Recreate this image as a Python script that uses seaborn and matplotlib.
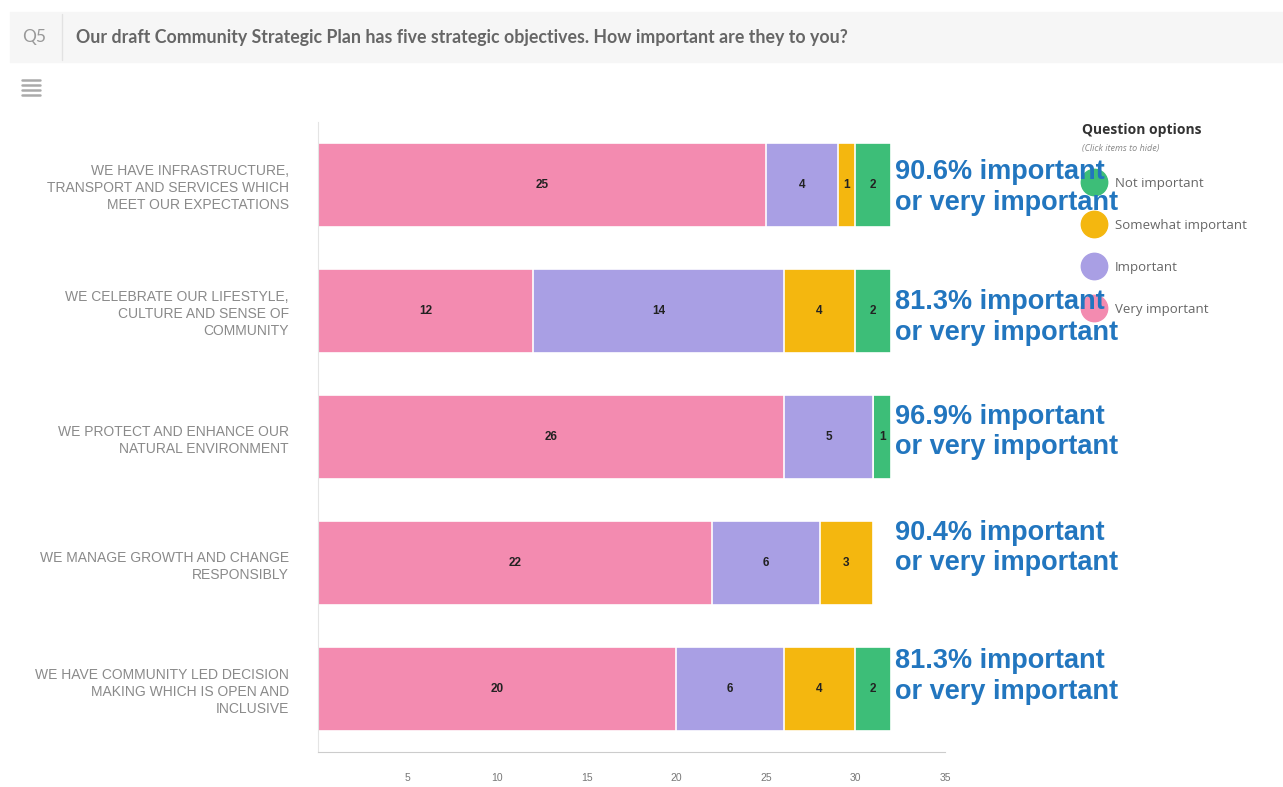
import numpy as np
import pandas as pd
import seaborn as sns
import matplotlib.pyplot as plt
from matplotlib.lines import Line2D
from matplotlib.patches import Rectangle

# survey counts per objective
objectives = [
    "WE HAVE INFRASTRUCTURE,\nTRANSPORT AND SERVICES WHICH\nMEET OUR EXPECTATIONS",
    "WE CELEBRATE OUR LIFESTYLE,\nCULTURE AND SENSE OF\nCOMMUNITY",
    "WE PROTECT AND ENHANCE OUR\nNATURAL ENVIRONMENT",
    "WE MANAGE GROWTH AND CHANGE\nRESPONSIBLY",
    "WE HAVE COMMUNITY LED DECISION\nMAKING WHICH IS OPEN AND\nINCLUSIVE",
]
very_important = [25, 12, 26, 22, 20]
important = [4, 14, 5, 6, 6]
somewhat_important = [1, 4, 0, 3, 4]
not_important = [2, 2, 1, 0, 2]
pct_important = ["90.6", "81.3", "96.9", "90.4", "81.3"]
x_ticks = [5, 10, 15, 20, 25, 30, 35]

levels = ["Very important", "Important", "Somewhat important", "Not important"]
colors = {"Very important": "#F38BB0", "Important": "#A99FE4",
          "Somewhat important": "#F4B70F", "Not important": "#3DBE78"}

df = pd.DataFrame({"objective": objectives,
                   "Very important": very_important,
                   "Important": important,
                   "Somewhat important": somewhat_important,
                   "Not important": not_important})
cum = df[levels].cumsum(axis=1)
cum["objective"] = df["objective"]

sns.set_style("white")
plt.rcParams["font.family"] = ["Liberation Sans", "DejaVu Sans"]

W, H = 1283, 787
fig = plt.figure(figsize=(W / 100, H / 100), dpi=100)
fx = lambda x: x / W
fy = lambda y: 1 - y / H

ax = fig.add_axes([fx(318), fy(752), fx(945) - fx(318), fy(122) - fy(752)])

# stacked bars: draw longest cumulative first
for lev in reversed(levels):
    sns.barplot(data=cum, y="objective", x=lev, color=colors[lev], orient="h",
                width=0.66, saturation=1, edgecolor="white", linewidth=1.2, ax=ax)

for i in range(len(df)):
    start = 0
    for lev in levels:
        v = df.loc[i, lev]
        if v > 0:
            ax.text(start + v / 2, i, str(v), ha="center", va="center",
                    fontsize=8.5, fontweight="bold", color="#222222")
        start += v

# percentage call-outs
offsets = [0.02, 0.05, -0.04, -0.12, -0.1]
for i, p in enumerate(pct_important):
    ax.text(0.92, i + offsets[i], f"{p}% important\nor very important",
            transform=ax.get_yaxis_transform(), ha="left", va="center",
            fontsize=19.5, color="#2276BF", linespacing=1.22,
            fontweight="bold", clip_on=False, zorder=10)

ax.set_xlim(0, 35)
ax.set_ylim(4.5, -0.5)
ax.set_xlabel("")
ax.set_ylabel("")
ax.set_xticks(x_ticks)
ax.set_xticklabels([str(t) for t in x_ticks])
ax.tick_params(axis="x", length=0, pad=15, labelsize=7.5, labelcolor="#777777")
ax.tick_params(axis="y", which="major", length=0, pad=21, labelsize=10,
               labelcolor="#8a8a8a")
ax.set_yticks(np.arange(-0.5, 5), minor=True)
ax.tick_params(axis="y", which="minor", length=13, color="#dddddd", width=1)
for t in ax.get_yticklabels():
    t.set_linespacing(1.3)
for s in ["top", "right"]:
    ax.spines[s].set_visible(False)
ax.spines["left"].set_color("#e4e4e4")
ax.spines["bottom"].set_color("#cccccc")

# legend
handles = [Line2D([], [], marker="o", linestyle="", markersize=19,
                  color=colors[l]) for l in reversed(levels)]
leg = ax.legend(handles, list(reversed(levels)), loc="upper left",
                bbox_to_anchor=(fx(1082), fy(177)), bbox_transform=fig.transFigure,
                frameon=False, labelspacing=2.2, handlelength=1.8,
                handletextpad=0.7, borderpad=0, borderaxespad=0,
                prop={"family": ["Open Sans", "DejaVu Sans"], "size": 9.5})
for t in leg.get_texts():
    t.set_color("#666666")
fig.text(fx(1082), fy(130), "Question options", fontsize=10, fontweight="bold",
         color="#333333", va="center", family=["Open Sans", "DejaVu Sans"])
fig.text(fx(1082), fy(148), "(Click items to hide)", fontsize=6.5, style="italic",
         color="#888888", va="center", family=["Open Sans", "DejaVu Sans"])

# header band
fig.patches.append(Rectangle((fx(10), fy(62)), 1 - fx(10), fy(12) - fy(62),
                             transform=fig.transFigure, color="#f6f6f6", zorder=0))
fig.add_artist(Line2D([fx(62), fx(62)], [fy(14), fy(60)], color="#e2e2e2", lw=1))
fig.text(fx(22), fy(37), "Q5", fontsize=12.5, color="#999999", va="center",
         family=["Lato", "DejaVu Sans"])
fig.text(fx(76), fy(37),
         "Our draft Community Strategic Plan has five strategic objectives. "
         "How important are they to you?",
         fontsize=12.8, fontweight="bold", color="#666666", va="center",
         family=["Lato", "DejaVu Sans"])
for yy in [80, 85, 90, 95]:
    fig.add_artist(Line2D([fx(22), fx(40)], [fy(yy), fy(yy)], color="#aaaaaa", lw=1.8))

fig.savefig("out.png", dpi=100)
